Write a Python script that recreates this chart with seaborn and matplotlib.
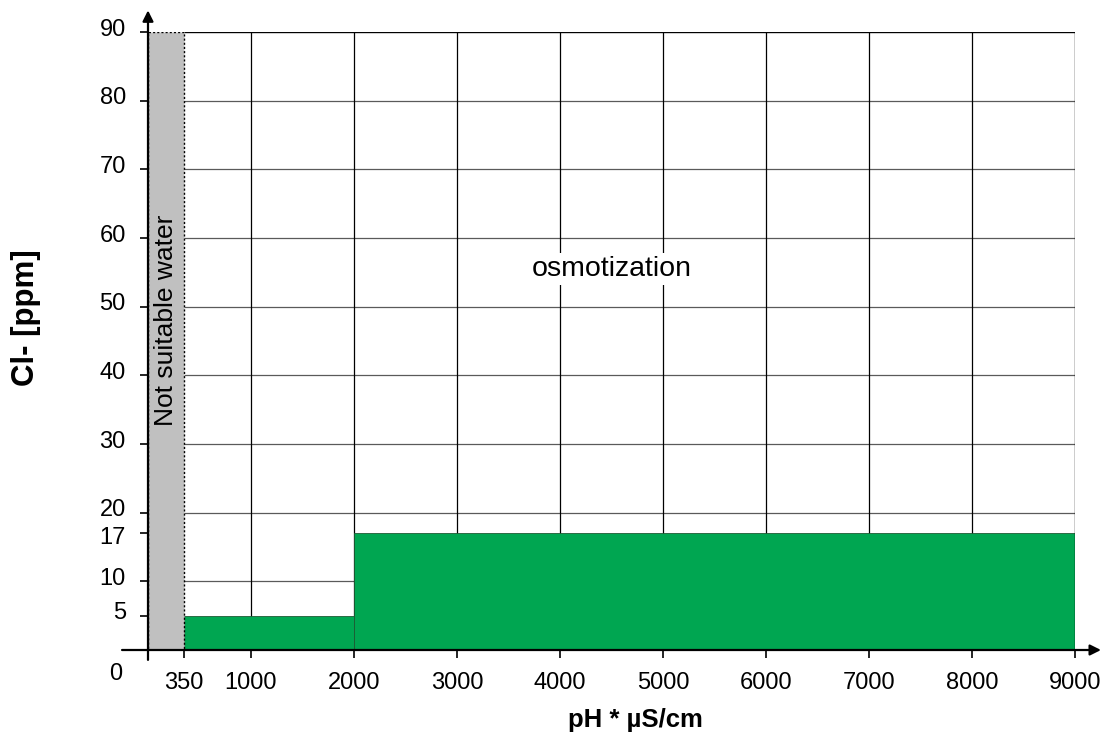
import numpy as np
import pandas as pd
import matplotlib
matplotlib.use("Agg")
import matplotlib.pyplot as plt
import matplotlib.transforms as mtransforms
import seaborn as sns

# ---- data ----
bin_edges = [350, 2000, 9000]          # pH * uS/cm
cl_limits = [5, 17]                    # Cl- [ppm] allowed per range
not_suitable = [0, 350]
x_ticks = [0, 350, 1000, 2000, 3000, 4000, 5000, 6000, 7000, 8000, 9000]
x_ticklabels = ["", "350", "1000", "2000", "3000", "4000", "5000", "6000", "7000", "8000", "9000"]
y_ticks = [0, 5, 10, 17, 20, 30, 40, 50, 60, 70, 80, 90]
y_grid = [10, 20, 30, 40, 50, 60, 70, 80]
x_grid = [1000, 2000, 3000, 4000, 5000, 6000, 7000, 8000]
xmax, ymax = 9000, 90

sns.set_theme(style="white")
plt.rcParams['font.family'] = ['Liberation Sans', 'DejaVu Sans']

fig = plt.figure(figsize=(11.07, 7.35), dpi=100)
ax = fig.add_axes([148/1107, 1-650/735, (1075-148)/1107, (650-32)/735])

green = "#00A651"
df = pd.DataFrame({
    "x": [(a + b) / 2 for a, b in zip(bin_edges[:-1], bin_edges[1:])],
    "w": cl_limits,
})
sns.histplot(data=df, x="x", weights="w", bins=bin_edges, color=green,
             alpha=1, linewidth=0.6, edgecolor="#1f5a35", ax=ax, zorder=3)

# grid
ax.hlines(y_grid, not_suitable[1], xmax, color="#5a5a5a", lw=0.9, zorder=1)
ax.vlines(x_grid, 0, ymax, color="black", lw=0.9, zorder=1)
ax.hlines([ymax], not_suitable[1], xmax, color="black", lw=1.0, zorder=1)
ax.vlines([xmax], 0, ymax, color="black", lw=1.0, zorder=4)

# not suitable band
ax.axvspan(not_suitable[0], not_suitable[1], 0, 1, facecolor="#C0C0C0",
           edgecolor="black", linestyle=(0, (1.5, 1.5)), lw=1.0, zorder=5)
ax.text((not_suitable[0] + not_suitable[1]) / 2, 48, "Not suitable water",
        rotation=90, ha="center", va="center", fontsize=19, color="black", zorder=6)

ax.text(4500, 55.5, "osmotization", ha="center", va="center", fontsize=20.5,
        color="black", zorder=6,
        bbox=dict(facecolor="white", edgecolor="none", pad=2))

ax.set_xlim(0, xmax)
ax.set_ylim(0, ymax)
ax.set_xticks(x_ticks)
ax.set_xticklabels(x_ticklabels)
ax.set_yticks(y_ticks)
ax.set_yticklabels([str(v) for v in y_ticks])
ax.set_xlabel("")
ax.set_ylabel("")
for s in ax.spines.values():
    s.set_visible(False)
ax.tick_params(axis="both", which="both", labelsize=17, colors="black",
               length=6, width=1.2, direction="out")
ax.tick_params(axis="x", pad=10, bottom=True)
ax.tick_params(axis="y", pad=10, left=True)

# shift y tick labels (mostly upwards, the "0" below)
for tick_val, lab in zip(y_ticks, ax.get_yticklabels()):
    if tick_val == 0:
        off = mtransforms.ScaledTranslation(-4/100, -22/100, fig.dpi_scale_trans)
    elif tick_val == 17:
        off = mtransforms.ScaledTranslation(0, -2/100, fig.dpi_scale_trans)
    else:
        off = mtransforms.ScaledTranslation(0, 5/100, fig.dpi_scale_trans)
    lab.set_transform(lab.get_transform() + off)

# axes with arrows
ax.annotate("", xy=(0, 1.035), xytext=(0, -0.016), xycoords="axes fraction",
            arrowprops=dict(arrowstyle="-|>", color="black", lw=1.6, mutation_scale=16,
                            shrinkA=0, shrinkB=0), zorder=7)
ax.annotate("", xy=(1.028, 0), xytext=(-0.028, 0), xycoords="axes fraction",
            arrowprops=dict(arrowstyle="-|>", color="black", lw=1.6, mutation_scale=16,
                            shrinkA=0, shrinkB=0), zorder=7)

fig.text(635/1107, 1-720/735, "pH * µS/cm", ha="center", va="center",
         fontsize=18.5, fontweight="bold", color="black")
fig.text(26/1107, 1-318/735, "Cl- [ppm]", ha="center", va="center",
         rotation=90, fontsize=22.5, fontweight="bold", color="black")

fig.savefig("out.png", dpi=100)
